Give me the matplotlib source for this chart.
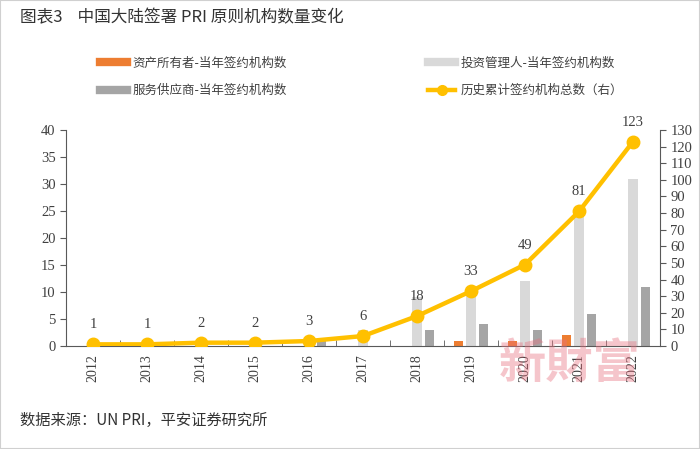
import matplotlib
matplotlib.use('Agg')
import matplotlib.pyplot as plt
from matplotlib.lines import Line2D
from matplotlib.patches import Rectangle
import numpy as np

plt.rcParams['font.family'] = ['Liberation Serif', 'Noto Sans CJK SC', 'DejaVu Sans']

# ----------------------------------------------------------------------
years = ['2012', '2013', '2014', '2015', '2016', '2017', '2018', '2019', '2020', '2021', '2022']
asset_owner = [0, 0, 0, 0, 0, 0, 0, 1, 1, 2, 0]
invest_mgr = [0, 0, 0, 0, 0, 3, 9, 10, 12, 24, 31]
service_prov = [0, 0, 0, 0, 1, 0, 3, 4, 3, 6, 11]
cumulative = [1, 1, 2, 2, 3, 6, 18, 33, 49, 81, 123]

names = ['资产所有者-当年签约机构数', '投资管理人-当年签约机构数',
         '服务供应商-当年签约机构数', '历史累计签约机构总数（右）']
colors = ['#ED7D31', '#D9D9D9', '#A5A5A5', '#FFC000']
# ----------------------------------------------------------------------

cjk = ['Noto Sans CJK SC', 'DejaVu Sans']
axis_col = '#595959'
txt_col = '#404040'

fig = plt.figure(figsize=(7, 4.49), dpi=100)
ax = fig.add_axes([66/700, 1-346/449, 594/700, 216/449])
ax2 = ax.twinx()

x = np.arange(len(years))
w = 0.18
ax.bar(x - 0.23, asset_owner, w, color=colors[0], zorder=2)
ax.bar(x, invest_mgr, w, color=colors[1], zorder=2)
ax.bar(x + 0.23, service_prov, w, color=colors[2], zorder=2)

ax2.plot(x, cumulative, color=colors[3], lw=3.2, marker='o', ms=9, zorder=3)
for xi, v in zip(x, cumulative):
    ax2.annotate(str(v), (xi, v), xytext=(0, 14), textcoords='offset points',
                 ha='center', va='center', fontsize=10.5, color=txt_col)

ax.set_xlim(-0.5, len(years) - 0.5)
ax.set_ylim(0, 40)
ax.set_yticks(range(0, 41, 5))
ax2.set_ylim(0, 130)
ax2.set_yticks(range(0, 131, 10))

ax.set_xticks(x)
ax.set_xticklabels(years, rotation=90, fontsize=10, color=txt_col)
ax.set_xticks(np.arange(-0.5, len(years)), minor=True)
ax.tick_params(axis='x', which='major', length=0, pad=6)
ax.tick_params(axis='x', which='minor', length=4, direction='in', color=axis_col)
ax.tick_params(axis='y', labelsize=10.5, labelcolor=txt_col, color=axis_col, length=4)
ax2.tick_params(axis='y', labelsize=10.5, labelcolor=txt_col, color=axis_col, length=4)

for a in (ax, ax2):
    a.spines['top'].set_visible(False)
    for s in ('left', 'right', 'bottom'):
        a.spines[s].set_color(axis_col)
ax.spines['right'].set_visible(False)
ax2.spines['left'].set_visible(False)
ax2.spines['bottom'].set_visible(False)

# legend
handles = [Line2D([], [], color=colors[0], lw=6),
           Line2D([], [], color=colors[1], lw=6),
           Line2D([], [], color=colors[2], lw=6),
           Line2D([], [], color=colors[3], lw=3.2, marker='o', ms=7)]
order = [0, 2, 1, 3]
leg = fig.legend([handles[i] for i in order], [names[i] for i in order],
                 ncol=2, loc='center', bbox_to_anchor=(0.516, 1-77/449),
                 frameon=False, prop={'family': cjk, 'size': 9},
                 handlelength=2.2, columnspacing=11.3, labelspacing=1.15,
                 handletextpad=0.4)
for t in leg.get_texts():
    t.set_color(txt_col)

fig.text(20/700, 1-18/449, '图表3    中国大陆签署 PRI 原则机构数量变化',
         family=cjk, fontsize=12, color='#333333', va='center', ha='left')
fig.text(20/700, 1-420/449, '数据来源：UN PRI，平安证券研究所',
         family=cjk, fontsize=11, color='#333333', va='center', ha='left')

# watermark
fig.text(570/700, 1-364/449, '新財富', family=cjk, fontsize=34, fontweight='bold',
         color='#E8707F', alpha=0.4, ha='center', va='center', zorder=10)

fig.patches.append(Rectangle((0, 0), 1, 1, transform=fig.transFigure,
                             fill=False, edgecolor='#D0D0D0', lw=1.5))

fig.savefig('out.png', dpi=100)
